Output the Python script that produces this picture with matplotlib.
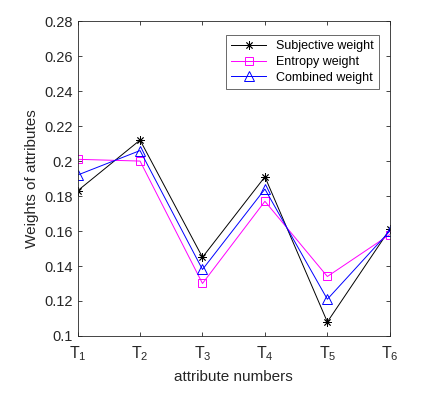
import matplotlib
matplotlib.use("Agg")
import matplotlib.pyplot as plt
import numpy as np

plt.rcParams['font.family'] = ['Liberation Sans', 'DejaVu Sans']
plt.rcParams['mathtext.fontset'] = 'custom'
plt.rcParams['mathtext.rm'] = 'Liberation Sans'

categories = ['T_1', 'T_2', 'T_3', 'T_4', 'T_5', 'T_6']
subjective = [0.183, 0.212, 0.145, 0.191, 0.108, 0.161]
entropy = [0.201, 0.200, 0.130, 0.177, 0.134, 0.158]
combined = [0.192, 0.206, 0.138, 0.184, 0.121, 0.160]

fig = plt.figure(figsize=(4.36, 3.99), dpi=100)
ax = fig.add_axes([0.178, 0.158, 0.716, 0.789])
x = np.arange(1, len(categories) + 1)
ax.plot(x, subjective, color='black', marker=(8, 2, 0), lw=0.7, ms=6, mew=0.6, label='Subjective weight')
ax.plot(x, entropy, color='#ff00ff', marker='s', mfc='none', lw=0.7, ms=6, mew=0.7, label='Entropy weight')
ax.plot(x, combined, color='blue', marker='^', mfc='none', lw=0.7, ms=7, mew=0.7, label='Combined weight')

ax.set_xlim(1, 6)
ax.set_ylim(0.1, 0.28)
ax.set_xticks(x)
ax.set_xticklabels([r'$\mathregular{%s}$' % c for c in categories])
yt = [0.1, 0.12, 0.14, 0.16, 0.18, 0.2, 0.22, 0.24, 0.26, 0.28]
ax.set_yticks(yt)
ax.set_yticklabels(['0.1', '0.12', '0.14', '0.16', '0.18', '0.2', '0.22', '0.24', '0.26', '0.28'])
ax.tick_params(direction='in', top=True, right=True, labelsize=10.5, colors='#262626', length=3, width=0.6)
ax.tick_params(axis='x', pad=6, labelsize=11.5)
for s in ax.spines.values():
    s.set_color('#262626')
    s.set_linewidth(0.6)
ax.set_xlabel('attribute numbers', fontsize=11, color='#262626', labelpad=5)
ax.set_ylabel('Weights of attributes', fontsize=11, color='#262626')
leg = ax.legend(loc='upper right', bbox_to_anchor=(0.985, 0.975), fontsize=9, frameon=True, fancybox=False,
                edgecolor='#262626', borderpad=0.4, handlelength=2.8, labelspacing=0.3)
leg.get_frame().set_linewidth(0.6)
fig.savefig('out.png', dpi=100)
